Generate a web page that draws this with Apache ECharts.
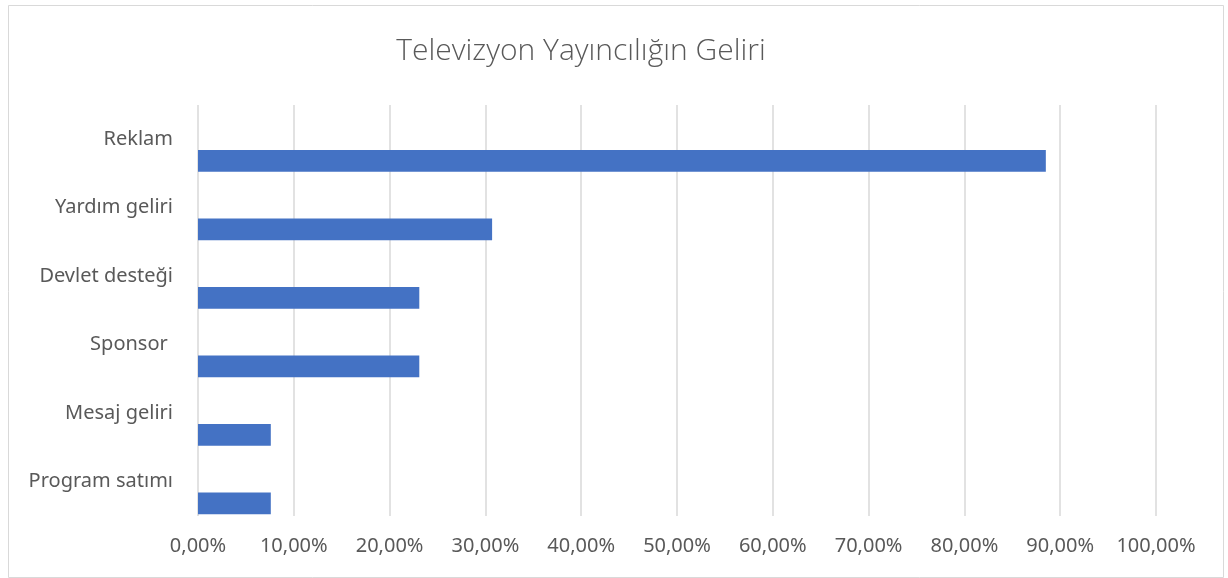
<!DOCTYPE html>
<html>
<head>
<meta charset="utf-8">
<script src="https://cdn.jsdelivr.net/npm/echarts@6/dist/echarts.min.js"></script>
<style>
  html, body { margin: 0; padding: 0; background: #ffffff; }
  #chart { width: 1228px; height: 578px; }
</style>
</head>
<body>
<div id="chart"></div>
<script>
// Gelir kalemleri ve payları (%)
const categories = ['Reklam', 'Yardım geliri', 'Devlet desteği', 'Sponsor ', 'Mesaj geliri', 'Program satımı'];
const shares = [88.5, 30.7, 23.1, 23.1, 7.6, 7.6];
// Boş ikinci seri: çubukları kategori bandının alt yarısına yerleştirir
const spacer = categories.map(() => null);
const axisMin = 0;
const axisMax = 100;
const axisStep = 10;

const chart = echarts.init(document.getElementById('chart'));
const textColor = '#595959';
const gridColor = '#d9d9d9';

chart.setOption({
  animation: false,
  backgroundColor: '#ffffff',
  graphic: [{
    type: 'rect',
    shape: { x: 8.5, y: 5.5, width: 1215, height: 572 },
    style: { fill: 'none', stroke: gridColor, lineWidth: 1 },
    silent: true
  }],
  title: {
    text: 'Televizyon Yayıncılığın Geliri',
    left: 576,
    top: 31,
    textAlign: 'center',
    textStyle: {
      fontFamily: 'Open Sans',
      fontWeight: 300,
      fontSize: 30,
      color: textColor
    }
  },
  grid: { left: 198, right: 72, top: 105, bottom: 62, containLabel: false },
  xAxis: {
    type: 'value',
    min: axisMin,
    max: axisMax,
    interval: axisStep,
    axisLine: { show: false },
    axisTick: { show: false },
    splitLine: { show: true, lineStyle: { color: gridColor, width: 1.5 } },
    axisLabel: {
      color: textColor,
      fontFamily: 'Noto Sans',
      fontSize: 20,
      margin: 20,
      formatter: v => v.toFixed(2).replace('.', ',') + '%'
    }
  },
  yAxis: {
    type: 'category',
    inverse: true,
    data: categories,
    axisLine: { show: false },
    axisTick: { show: false },
    splitLine: { show: false },
    axisLabel: {
      color: textColor,
      fontFamily: 'Noto Sans',
      fontSize: 20,
      margin: 25
    }
  },
  series: [
    {
      name: 'bos',
      type: 'bar',
      data: spacer,
      barWidth: 21.7,
      barGap: '100%',
      silent: true
    },
    {
      name: 'Gelir',
      type: 'bar',
      data: shares,
      barWidth: 21.7,
      barGap: '100%',
      itemStyle: { color: '#4472c4' }
    }
  ]
});
</script>
</body>
</html>
